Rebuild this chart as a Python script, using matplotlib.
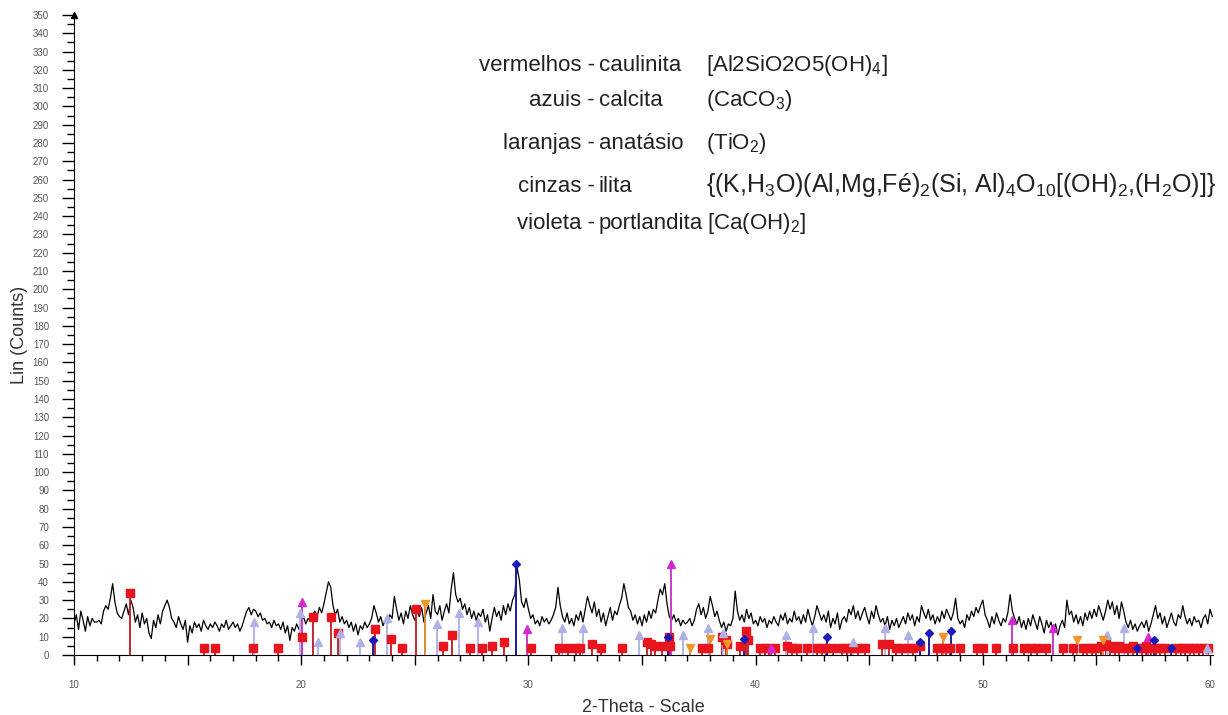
import numpy as np
import matplotlib
matplotlib.use("Agg")
import matplotlib.pyplot as plt
from matplotlib.ticker import MultipleLocator, FuncFormatter

plt.rcParams['font.family'] = ['Liberation Sans', 'DejaVu Sans']
plt.rcParams['mathtext.fontset'] = 'custom'
plt.rcParams['mathtext.rm'] = 'Liberation Sans'
plt.rcParams['mathtext.it'] = 'Liberation Sans:italic'
plt.rcParams['mathtext.bf'] = 'Liberation Sans:bold'

# measured pattern, one value every 0.1 deg starting at 10.0
counts = [
    17, 22, 14, 24, 19, 13, 21, 16, 20, 18,   # 10
    18, 19, 17, 24, 27, 25, 31, 39, 29, 23,   # 11
    21, 20, 24, 28, 22, 30, 26, 18, 22, 15,   # 12
    23, 17, 20, 12, 9, 19, 15, 22, 17, 24,    # 13
    27, 30, 26, 20, 18, 15, 21, 17, 14, 19,   # 14
    7, 16, 12, 18, 15, 17, 13, 19, 16, 14,    # 15
    17, 15, 18, 16, 13, 17, 15, 19, 14, 16,   # 16
    18, 15, 17, 13, 16, 20, 24, 26, 22, 25,   # 17
    24, 21, 23, 19, 20, 17, 18, 15, 19, 16,   # 18
    17, 14, 18, 12, 16, 8, 15, 13, 17, 14,    # 19
    18, 21, 17, 20, 19, 22, 24, 21, 26, 23,   # 20
    28, 34, 40, 37, 27, 22, 25, 18, 21, 17,   # 21
    19, 15, 18, 13, 17, 11, 16, 14, 18, 15,   # 22
    17, 20, 27, 23, 18, 21, 16, 19, 17, 22,   # 23
    20, 32, 25, 19, 23, 17, 24, 20, 27, 22,   # 24
    19, 24, 21, 26, 18, 23, 27, 20, 33, 24,   # 25
    22, 27, 19, 24, 28, 23, 36, 45, 33, 29,   # 26
    31, 25, 28, 22, 26, 20, 24, 19, 23, 21,   # 27
    25, 18, 22, 13, 20, 26, 21, 24, 19, 27,   # 28
    22, 28, 24, 30, 33, 48, 41, 29, 26, 31,   # 29
    25, 20, 22, 17, 19, 16, 21, 18, 20, 17,   # 30
    19, 22, 26, 37, 27, 21, 18, 23, 17, 20,   # 31
    16, 22, 19, 24, 18, 25, 32, 27, 23, 29,   # 32
    21, 25, 18, 23, 16, 21, 26, 19, 24, 22,   # 33
    27, 31, 39, 33, 26, 24, 19, 22, 17, 21,   # 34
    16, 22, 18, 24, 20, 25, 23, 30, 36, 33,   # 35
    39, 28, 21, 19, 22, 18, 20, 16, 19, 17,   # 36
    18, 20, 16, 19, 25, 28, 22, 26, 20, 24,   # 37
    32, 27, 21, 24, 19, 15, 18, 13, 17, 16,   # 38
    20, 35, 24, 19, 22, 18, 25, 20, 23, 17,   # 39
    19, 16, 21, 18, 20, 15, 19, 17, 21, 18,   # 40
    16, 22, 19, 23, 17, 20, 18, 24, 19, 21,   # 41
    17, 22, 18, 25, 20, 16, 21, 27, 23, 19,   # 42
    22, 18, 24, 15, 20, 17, 23, 14, 19, 21,   # 43
    18, 25, 22, 27, 20, 24, 19, 23, 26, 21,   # 44
    17, 24, 20, 27, 22, 18, 20, 16, 21, 14,   # 45
    19, 16, 20, 15, 18, 21, 17, 23, 19, 22,   # 46
    16, 21, 18, 27, 23, 20, 25, 19, 22, 17,   # 47
    21, 18, 24, 20, 25, 22, 19, 23, 31, 20,   # 48
    17, 19, 15, 22, 19, 24, 21, 26, 23, 27,   # 49
    30, 22, 19, 15, 21, 17, 23, 19, 16, 20,   # 50
    18, 23, 33, 24, 20, 17, 21, 15, 19, 14,   # 51
    20, 16, 22, 18, 14, 21, 17, 12, 19, 15,   # 52
    18, 13, 17, 11, 16, 19, 15, 30, 22, 24,   # 53
    18, 22, 17, 21, 16, 23, 19, 24, 20, 25,   # 54
    21, 27, 23, 19, 24, 30, 25, 29, 22, 27,   # 55
    20, 29, 24, 18, 15, 19, 14, 17, 13, 16,   # 56
    18, 15, 19, 13, 17, 22, 27, 20, 23, 17,   # 57
    21, 15, 19, 23, 18, 16, 22, 20, 27, 21,   # 58
    17, 20, 16, 21, 18, 19, 15, 20, 22, 17,   # 59
    25, 21,                                   # 60
]
two_theta = 10 + 0.1 * np.arange(len(counts))

# reference patterns (position, relative height)
caulinita_pos = [12.45, 15.70, 16.20, 17.90, 19.00, 20.05, 20.50, 21.32, 21.62, 23.25,
                 23.97, 24.42, 25.05, 26.23, 26.65, 27.43, 27.94, 28.41, 28.93, 30.11,
                 31.36, 31.73, 32.08, 32.27, 32.78, 33.20, 34.12, 35.20, 35.38, 35.58,
                 35.87, 36.20, 36.24, 37.63, 37.90, 38.50, 38.70, 38.74, 39.30, 39.58,
                 39.68, 40.20, 40.40, 40.60, 40.85, 41.37, 41.60, 41.80, 42.25, 42.70,
                 42.90, 43.10, 43.40, 43.80, 44.00, 44.20, 44.50, 44.80, 45.55, 45.87,
                 46.20, 46.45, 46.70, 46.93, 47.23, 47.97, 48.20, 48.40, 48.56, 49.00,
                 49.73, 50.00, 50.60, 51.33, 51.80, 52.10, 52.40, 52.80, 53.53, 53.97,
                 54.40, 54.60, 54.80, 55.00, 55.20, 55.40, 55.60, 55.80, 56.00, 56.20,
                 56.40, 56.60, 56.80, 57.00, 57.20, 57.40, 57.60, 57.80, 58.00, 58.50,
                 58.70, 58.90, 59.10, 59.30, 59.50, 59.70, 59.90]
caulinita_h = [34, 4, 4, 4, 4, 10, 21, 21, 12, 14,
               9, 4, 25, 5, 11, 4, 4, 5, 7, 4,
               4, 4, 4, 4, 6, 4, 4, 7, 6, 5,
               5, 10, 5, 4, 4, 10, 8, 6, 5, 13,
               8, 4, 4, 4, 4, 5, 4, 4, 4, 4,
               4, 4, 4, 4, 4, 4, 4, 4, 6, 6,
               4, 4, 4, 4, 5, 4, 4, 4, 4, 4,
               4, 4, 4, 4, 4, 4, 4, 4, 4, 4,
               4, 4, 4, 4, 5, 6, 5, 4, 5, 4,
               4, 5, 4, 4, 5, 4, 4, 4, 4, 4,
               4, 4, 4, 4, 4, 4, 4]

calcita_pos = [23.15, 29.45, 36.13, 39.49, 43.15, 47.25, 47.65, 48.62, 56.78, 57.55, 58.30]
calcita_h = [8, 50, 10, 9, 10, 7, 12, 13, 4, 8, 4]

anatasio_pos = [25.45, 37.10, 37.99, 38.75, 48.23, 54.13, 55.28]
anatasio_h = [28, 4, 9, 6, 10, 8, 8]

ilita_pos = [17.92, 19.95, 20.75, 21.70, 22.59, 23.79, 25.96, 26.93, 27.80, 31.47,
             32.42, 34.88, 36.79, 37.92, 38.58, 41.32, 42.54, 44.30, 45.70, 46.72,
             55.45, 56.20, 59.85]
ilita_h = [18, 23, 7, 12, 7, 20, 17, 23, 18, 15,
           15, 11, 11, 15, 12, 11, 15, 7, 15, 11,
           11, 15, 4]

portlandita_pos = [20.05, 29.95, 36.26, 40.66, 51.27, 53.10, 57.29]
portlandita_h = [29, 14, 50, 4, 19, 15, 10]

legend_colours = ["vermelhos -", "azuis -", "laranjas -", "cinzas -", "violeta -"]
legend_minerals = ["caulinita", "calcita", "anatásio", "ilita", "portlandita"]
legend_formulas = [r"[Al2SiO2O5(OH)$_4$]", r"(CaCO$_3$)", r"(TiO$_2$)",
                   r"{(K,H$_3$O)(Al,Mg,Fé)$_2$(Si, Al)$_4$O$_{10}$[(OH)$_2$,(H$_2$O)]}",
                   r"[Ca(OH)$_2$]"]

W, H = 1228, 715
fig = plt.figure(figsize=(W / 100, H / 100), dpi=100)
ax = fig.add_axes([74 / W, 60 / H, (1213 - 74) / W, 640 / H])

ax.plot(two_theta, counts, color='black', lw=0.9, zorder=2)

phases = [
    (caulinita_pos, caulinita_h, '#c0282d', '#e8141e', 's', 5.5),
    (ilita_pos, ilita_h, '#b4b4e4', '#aeb0e6', '^', 6),
    (anatasio_pos, anatasio_h, '#d98a2a', '#f0962a', 'v', 6),
    (portlandita_pos, portlandita_h, '#c83cc8', '#d22ad2', '^', 6),
    (calcita_pos, calcita_h, '#1c1ca0', '#1a1ab8', 'D', 4),
]
for pos, h, lc, mc, mk, ms in phases:
    ax.vlines(pos, 0, h, colors=lc, lw=1.4, zorder=3)
    ax.plot(pos, h, ls='none', marker=mk, color=mc, markersize=ms, zorder=4)

ax.set_xlim(10, 60.13)
ax.set_ylim(0, 350)
ax.spines['top'].set_visible(False)
ax.spines['right'].set_visible(False)
ax.plot([0], [1], marker='^', color='black', markersize=5, transform=ax.transAxes, clip_on=False)

ax.yaxis.set_major_locator(MultipleLocator(10))
ax.yaxis.set_minor_locator(MultipleLocator(5))
ax.xaxis.set_major_locator(MultipleLocator(5))
ax.xaxis.set_minor_locator(MultipleLocator(1))
ax.xaxis.set_major_formatter(FuncFormatter(lambda v, p: f"{v:.0f}" if round(v) % 10 == 0 else ""))
ax.tick_params(axis='y', which='major', length=9, width=1, labelsize=7, pad=9, labelcolor='#555555')
ax.tick_params(axis='y', which='minor', length=5, width=1)
ax.tick_params(axis='x', which='major', length=7, width=1, labelsize=7, pad=11, labelcolor='#555555')
ax.tick_params(axis='x', which='minor', length=4, width=1)

fig.text(20 / W, 1 - 335 / H, "Lin (Counts)", rotation=90, ha='center', va='center',
         fontsize=13, color='#333333')
fig.text(643 / W, 1 - 707 / H, "2-Theta - Scale", ha='center', va='center',
         fontsize=13, color='#333333')

baselines = [71, 106, 149, 192, 229]
formula_x = [706, 706, 706, 706, 707]
formula_size = [16, 16, 16, 18, 16]
for i in range(5):
    yb = 1 - baselines[i] / H
    fig.text(595 / W, yb, legend_colours[i], ha='right', va='baseline', fontsize=16, color='#222222')
    fig.text(599 / W, yb, legend_minerals[i], ha='left', va='baseline', fontsize=16, color='#222222')
    fig.text(formula_x[i] / W, yb, legend_formulas[i], ha='left', va='baseline',
             fontsize=formula_size[i], color='#222222')

fig.savefig("out.png", dpi=100)
